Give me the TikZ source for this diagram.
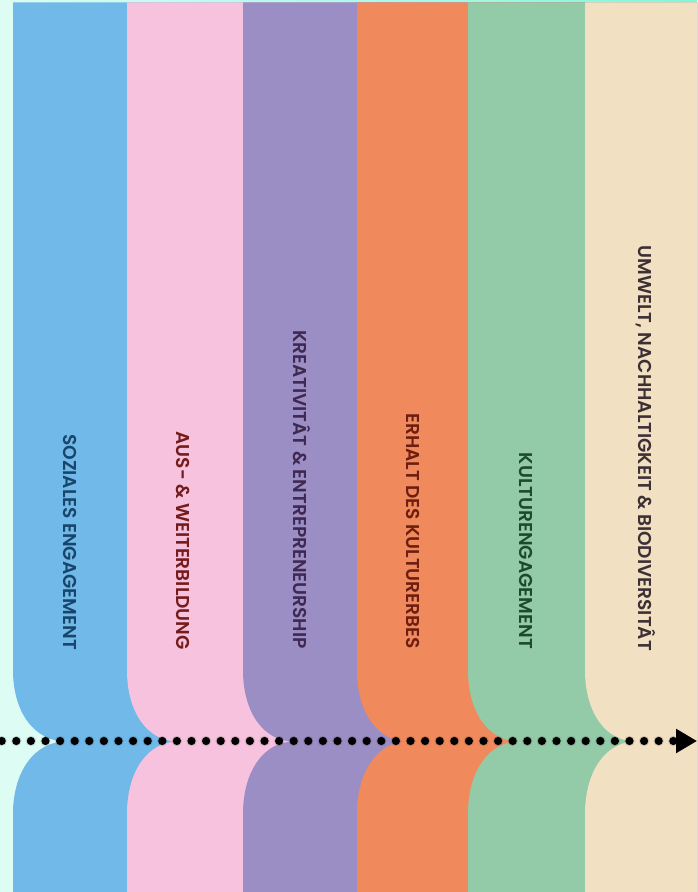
\documentclass[tikz,border=0pt]{standalone}
\usepackage{fontspec}
\setmainfont{Poppins}[UprightFont=* SemiBold]
\usetikzlibrary{arrows.meta}

\definecolor{bgmint}{HTML}{DDFCF3}
\definecolor{bgaqua}{HTML}{7FF7DC}
\definecolor{bandblue}{HTML}{71B9E8}
\definecolor{bandpink}{HTML}{F6C2DE}
\definecolor{bandpurple}{HTML}{9B8EC5}
\definecolor{bandorange}{HTML}{F08A5C}
\definecolor{bandgreen}{HTML}{93CBA8}
\definecolor{bandbeige}{HTML}{F2E0C3}
\definecolor{txtblue}{HTML}{17456C}
\definecolor{txtred}{HTML}{741B1B}
\definecolor{txtpurple}{HTML}{3F2852}
\definecolor{txtbrown}{HTML}{6E1E10}
\definecolor{txtgreen}{HTML}{1D4A2E}
\definecolor{txtgrey}{HTML}{3D3035}

\tikzset{
  bandlabel/.style={rotate=-90,anchor=east,inner sep=0pt,
    text height=13pt,text depth=0pt,font=\fontsize{18.6}{20}\selectfont},
  dotline/.style={line width=8.2pt,line cap=round,
    dash pattern=on 0pt off 14.6pt},
  dotshadow/.style={dotline,black,opacity=0.12}
}

\begin{document}
\begin{tikzpicture}[x=1pt,y=1pt]
\useasboundingbox (0,0) rectangle (697,892);
\fill[bgmint] (0,0) rectangle (697,892);
\shade[left color=bgmint,right color=bgaqua] (0,889.5) rectangle (697,892);
% bands, left to right
\fill[bandblue] (13,889.5) -- (13,222) .. controls (13,179) and (35,150.5) .. (66,150.5)
  .. controls (35,150.5) and (13,121) .. (13,78) -- (13,0) -- (697,0) -- (697,889.5) -- cycle;
\fill[bandpink] (127,889.5) -- (127,222) .. controls (127,179) and (148,150.5) .. (178,150.5)
  .. controls (148,150.5) and (127,121) .. (127,78) -- (127,0) -- (697,0) -- (697,889.5) -- cycle;
\fill[bandpurple] (243,889.5) -- (243,222) .. controls (243,179) and (264,150.5) .. (294,150.5)
  .. controls (264,150.5) and (243,121) .. (243,78) -- (243,0) -- (697,0) -- (697,889.5) -- cycle;
\fill[bandorange] (357,889.5) -- (357,222) .. controls (357,179) and (378,150.5) .. (408,150.5)
  .. controls (378,150.5) and (357,121) .. (357,78) -- (357,0) -- (697,0) -- (697,889.5) -- cycle;
\fill[bandgreen] (468,889.5) -- (468,222) .. controls (468,179) and (489,150.5) .. (519,150.5)
  .. controls (489,150.5) and (468,121) .. (468,78) -- (468,0) -- (697,0) -- (697,889.5) -- cycle;
\fill[bandbeige] (585,889.5) -- (585,222) .. controls (585,179) and (606,150.5) .. (636,150.5)
  .. controls (606,150.5) and (585,121) .. (585,78) -- (585,0) -- (697,0) -- (697,889.5) -- cycle;
% labels
\node[bandlabel,txtblue] (soz) at (69.5,242) {SOZIALES ENGAGEMENT};
\node[bandlabel,txtred] (aus) at (182.5,242) {AUS- \& WEITERBILDUNG};
\node[bandlabel,txtpurple] (krea) at (299.5,243) {KREATIVITÂT \& ENTREPRENEURSHIP};
\node[bandlabel,txtbrown] (erh) at (412.5,243) {ERHALT DES KULTURERBES};
\node[bandlabel,txtgreen] (kult) at (526,243) {KULTURENGAGEMENT};
\node[bandlabel,txtgrey] (umw) at (645,241) {UMWELT, NACHHALTIGKEIT \& BIODIVERSITÂT};
% timeline
\coordinate (start) at (1.7,151);
\coordinate (tip) at (697,151);
\begin{scope}[shift={(2.5,-5.5)}]
\draw[dotshadow,line width=10.5pt] (start) -- ([xshift=-20pt]tip);
\draw[dotshadow,line width=8pt] (start) -- ([xshift=-20pt]tip);
\fill[black,opacity=0.2] ([xshift=-21pt,yshift=12pt]tip) -- (tip) -- ([xshift=-21pt,yshift=-12pt]tip) -- cycle;
\end{scope}
\draw[dotline,-{Triangle[length=21pt 0 0,width=23pt 0 0]}] (start) -- (tip);
\end{tikzpicture}
\end{document}
